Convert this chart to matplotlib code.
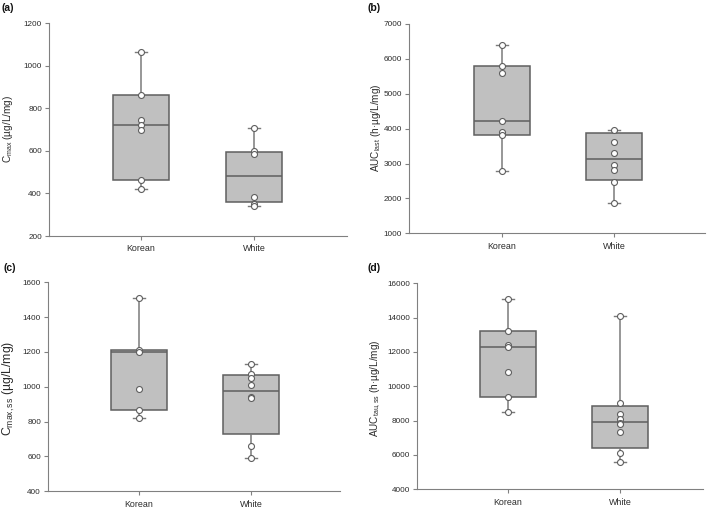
import numpy as np
import matplotlib.pyplot as plt

plt.rcParams['font.family'] = ['Liberation Sans', 'DejaVu Sans']
plt.rcParams['mathtext.fontset'] = 'custom'
plt.rcParams['mathtext.rm'] = 'Liberation Sans'
plt.rcParams['mathtext.it'] = 'Liberation Sans'
plt.rcParams['mathtext.default'] = 'regular'

groups = ['Korean', 'White']

# individual subjects
cmax_korean = [1062, 862, 745, 721, 698, 463, 419]
cmax_white = [706, 600, 585, 384, 352, 342]
auclast_korean = [6390, 5790, 5590, 4220, 3900, 3830, 2790]
auclast_white = [3960, 3610, 3310, 2960, 2820, 2480, 1860]
cmaxss_korean = [1510, 1210, 1202, 985, 867, 820]
cmaxss_white = [1132, 1072, 1053, 1010, 943, 934, 660, 592]
aucss_korean = [15100, 13220, 12420, 12310, 10810, 9400, 8520]
aucss_white = [14100, 9050, 8400, 8080, 7880, 7780, 7350, 6110, 5570]

# box stats: whisker low, q1, median, q3, whisker high
cmax_box_korean = [419, 463, 721, 862, 1062]
cmax_box_white = [342, 360, 483, 596, 706]
auclast_box_korean = [2790, 3830, 4220, 5790, 6390]
auclast_box_white = [1860, 2530, 3135, 3866, 3960]
cmaxss_box_korean = [820, 867, 1200, 1210, 1510]
cmaxss_box_white = [592, 729, 976, 1065, 1132]
aucss_box_korean = [8520, 9400, 12310, 13220, 15100]
aucss_box_white = [5570, 6430, 7940, 8880, 14100]

panels = [
    dict(tag='(a)', korean=cmax_korean, white=cmax_white,
         box_k=cmax_box_korean, box_w=cmax_box_white,
         ylim=(200, 1200), yticks=np.arange(200, 1201, 200),
         ylabel=r'C$_{\mathrm{max}}$ (µg/L/mg)', lsize=7.2,
         rect=[49, 23, 347, 236], xlim=(0.186, 2.823),
         lab_xy=(8, 129), tag_xy=(1, 3)),
    dict(tag='(b)', korean=auclast_korean, white=auclast_white,
         box_k=auclast_box_korean, box_w=auclast_box_white,
         ylim=(1000, 7000), yticks=np.arange(1000, 7001, 1000),
         ylabel=r'AUC$_{\mathrm{last}}$ (h·µg/L/mg)', lsize=7.2,
         rect=[409, 24, 705, 233.3], xlim=(0.17, 2.81),
         lab_xy=(376, 128), tag_xy=(368, 3)),
    dict(tag='(c)', korean=cmaxss_korean, white=cmaxss_white,
         box_k=cmaxss_box_korean, box_w=cmaxss_box_white,
         ylim=(400, 1600), yticks=np.arange(400, 1601, 200),
         ylabel=r'C$_{\mathrm{max,ss}}$ (µg/L/mg)', lsize=8.8,
         rect=[48, 282.3, 340, 491.3], xlim=(0.1875, 2.795),
         lab_xy=(9, 388), tag_xy=(3, 263)),
    dict(tag='(d)', korean=aucss_korean, white=aucss_white,
         box_k=aucss_box_korean, box_w=aucss_box_white,
         ylim=(4000, 16000), yticks=np.arange(4000, 16001, 2000),
         ylabel=r'AUC$_{\mathrm{tau,ss}}$ (h·µg/L/mg)', lsize=7.2,
         rect=[417, 283.3, 703, 489.3], xlim=(0.1875, 2.74),
         lab_xy=(376, 388), tag_xy=(367, 263)),
]

W, H = 709, 508
fig = plt.figure(figsize=(W / 100, H / 100), dpi=100)

axis_col = '#808080'
text_col = '#2b2b2b'

for p in panels:
    x0, y0, x1, y1 = p['rect']
    ax = fig.add_axes([x0 / W, 1 - y1 / H, (x1 - x0) / W, (y1 - y0) / H])

    stats = []
    for name, b in zip(groups, [p['box_k'], p['box_w']]):
        stats.append(dict(label=name, whislo=b[0], q1=b[1], med=b[2],
                          q3=b[3], whishi=b[4], fliers=[]))
    ax.bxp(stats, positions=[1, 2], widths=0.5, capwidths=0.11,
           showfliers=False, patch_artist=True,
           boxprops=dict(facecolor='#c0c0c0', edgecolor='#5f5f5f', linewidth=1.1),
           medianprops=dict(color='#5f5f5f', linewidth=1.1),
           whiskerprops=dict(color='#7a7a7a', linewidth=1.1),
           capprops=dict(color='#7a7a7a', linewidth=1.0))

    for pos, vals in zip([1, 2], [p['korean'], p['white']]):
        ax.plot(np.full(len(vals), pos), vals, 'o', ms=4.3, mfc='white',
                mec='#5f5f5f', mew=0.8, zorder=5, clip_on=False)

    ax.set_xlim(*p['xlim'])
    ax.set_ylim(*p['ylim'])
    ax.set_yticks(p['yticks'])
    ax.set_xticks([1, 2])
    ax.set_xticklabels(groups)
    for s in ['top', 'right']:
        ax.spines[s].set_visible(False)
    for s in ['left', 'bottom']:
        ax.spines[s].set_color(axis_col)
        ax.spines[s].set_linewidth(0.8)
    ax.tick_params(axis='y', direction='out', length=3, width=0.8,
                   color=axis_col, labelsize=5.9, labelcolor=text_col, pad=2)
    ax.tick_params(axis='x', direction='out', length=3, width=0.8,
                   color=axis_col, labelsize=6.4, labelcolor=text_col, pad=3)

    lx, ly = p['lab_xy']
    fig.text(lx / W, 1 - ly / H, p['ylabel'], rotation=90, ha='center',
             va='center', fontsize=p['lsize'], color=text_col)
    tx, ty = p['tag_xy']
    fig.text(tx / W, 1 - ty / H, p['tag'], ha='left', va='top',
             fontsize=7.5, fontweight='bold', color='#111111')

fig.savefig('out.png', dpi=100)
